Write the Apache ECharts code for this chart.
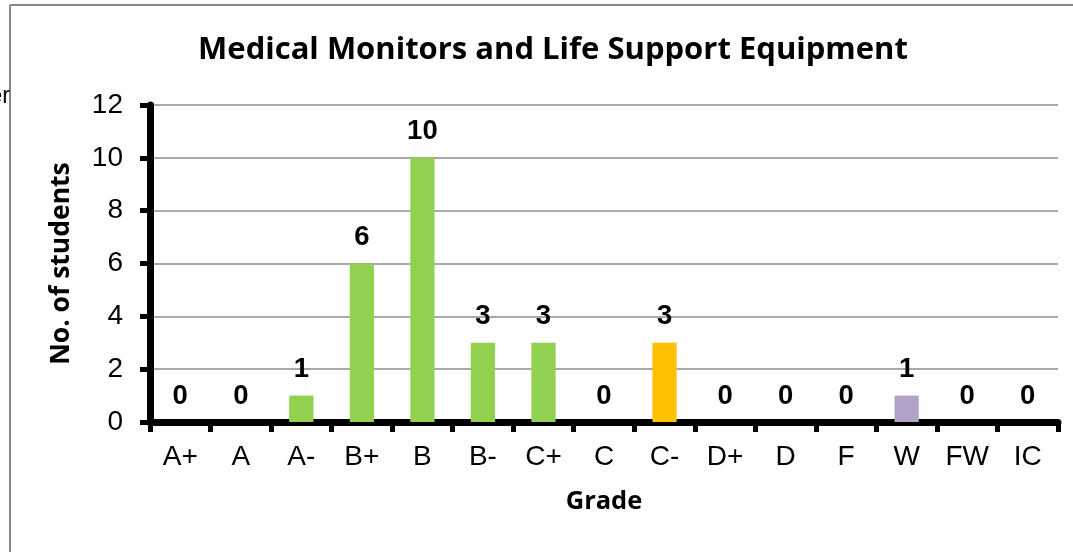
<!DOCTYPE html>
<html lang="en">
<head>
    <meta charset="UTF-8">
    <title>Medical Monitors and Life Support Equipment</title>
    <script src="https://cdn.jsdelivr.net/npm/echarts@6/dist/echarts.min.js"></script>
    <style>
        html, body { margin: 0; padding: 0; background: #fff; }
        #chart1 { width: 1073px; height: 552px; }
    </style>
</head>
<body>
<div id="chart1"></div>
<script>
    var grades = ['A+', 'A', 'A-', 'B+', 'B', 'B-', 'C+', 'C', 'C-', 'D+', 'D', 'F', 'W', 'FW', 'IC'];
    var students = [0, 0, 1, 6, 10, 3, 3, 0, 3, 0, 0, 0, 1, 0, 0];
    var barColors = ['#92D050', '#92D050', '#92D050', '#92D050', '#92D050', '#92D050', '#92D050',
        '#92D050', '#FFC000', '#B3A2C7', '#B3A2C7', '#B3A2C7', '#B3A2C7', '#B3A2C7', '#B3A2C7'];

    var chart = echarts.init(document.getElementById('chart1'), null, {renderer: 'canvas'});

    var option = {
        animation: false,
        title: {
            text: 'Medical Monitors and Life Support Equipment',
            left: 548,
            textAlign: 'center',
            top: 30,
            textStyle: {fontFamily: 'Open Sans', fontWeight: 'bold', fontSize: 31, color: '#000'}
        },
        graphic: [
            {type: 'line', shape: {x1: 10, y1: 5, x2: 1073, y2: 5}, style: {stroke: '#888', lineWidth: 2}},
            {type: 'line', shape: {x1: 10, y1: 5, x2: 10, y2: 552}, style: {stroke: '#888', lineWidth: 2}},
            {type: 'text', right: 1063, top: 85, style: {text: 'er', font: '23px "Liberation Sans"', fill: '#000'}}
        ],
        grid: {left: 150, right: 15, top: 105, bottom: 130},
        xAxis: {
            type: 'category',
            data: grades,
            name: 'Grade',
            nameLocation: 'middle',
            nameGap: 67,
            nameTextStyle: {fontFamily: 'Open Sans', fontWeight: 'bold', fontSize: 25.5, color: '#000'},
            axisLine: {lineStyle: {color: '#000', width: 7}},
            axisTick: {show: true, alignWithLabel: false, length: 10, lineStyle: {color: '#000', width: 5}},
            axisLabel: {fontFamily: 'Liberation Sans', fontSize: 28, color: '#000', margin: 21}
        },
        yAxis: {
            type: 'value',
            min: 0,
            max: 12,
            interval: 2,
            name: 'No. of students',
            nameLocation: 'middle',
            nameGap: 75,
            nameRotate: 90,
            nameTextStyle: {fontFamily: 'Open Sans', fontWeight: 'bold', fontSize: 26.5, color: '#000'},
            axisLine: {show: true, lineStyle: {color: '#000', width: 7}},
            axisTick: {show: true, length: 10, lineStyle: {color: '#000', width: 5}},
            axisLabel: {fontFamily: 'Liberation Sans', fontSize: 28, color: '#000', margin: 27},
            splitLine: {lineStyle: {color: '#8c8c8c', width: 1.5}}
        },
        series: [{
            type: 'bar',
            data: students,
            barWidth: '40%',
            itemStyle: {
                color: function (p) { return barColors[p.dataIndex]; }
            },
            label: {
                show: true,
                position: 'top',
                distance: 12,
                fontFamily: 'Liberation Sans',
                fontWeight: 'bold',
                fontSize: 27.5,
                color: '#000'
            }
        }]
    };
    chart.setOption(option);
</script>
</body>
</html>
